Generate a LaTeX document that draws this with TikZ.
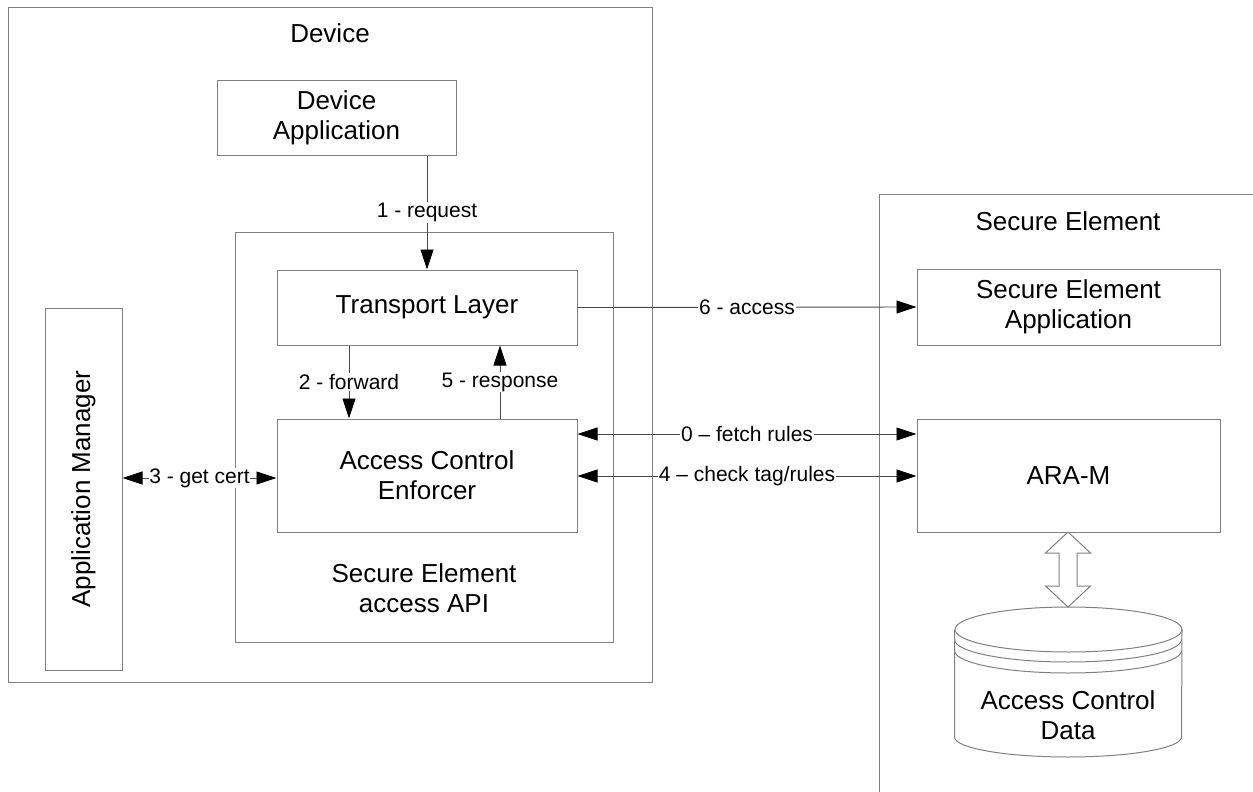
\documentclass[tikz,border=0pt]{standalone}
\usepackage{fontspec}
\setmainfont{Liberation Sans}
\usetikzlibrary{arrows.meta}
\definecolor{boxgray}{HTML}{808080}
\definecolor{linegray}{HTML}{4A4A4A}
\begin{document}
\begin{tikzpicture}[x=1pt,y=-1pt,
  box/.style={draw=boxgray, line width=1pt, inner sep=0pt, align=center, font=\fontsize{26}{30}\selectfont},
  big/.style={font=\fontsize{26}{30}\selectfont, align=center, inner sep=0pt},
  lbl/.style={font=\fontsize{21}{24}\selectfont, fill=white, inner sep=1pt, text=black},
  conn/.style={draw=linegray, line width=0.9pt, -{Triangle[length=20pt,width=13pt,color=black]}},
  conn2/.style={draw=linegray, line width=0.9pt, {Triangle[length=20pt,width=13pt,color=black]}-{Triangle[length=20pt,width=13pt,color=black]}},
  thin/.style={draw=boxgray, line width=1pt}
]
\useasboundingbox (0,0) rectangle (1253,792);

% Device container
\node[box, minimum width=644pt, minimum height=674pt] (device) at (330,345) {};
\node[big] (devicelbl) at (330,33) {Device};

\node[box, minimum width=239pt, minimum height=74pt] (devapp) at (336.5,118) {Device\\Application};

\node[box, minimum width=378pt, minimum height=410pt] (api) at (424,437) {};
\node[big] (apilbl) at (424,588) {Secure Element\\access API};

\node[box, minimum width=300pt, minimum height=75pt] (transport) at (427,307.5) {Transport Layer};
\node[box, minimum width=300pt, minimum height=113pt] (ace) at (427,475.5) {Access Control\\Enforcer};

\node[box, minimum width=77pt, minimum height=362pt] (appmgr) at (83.5,489) {};
\node[big, rotate=90] (appmgrlbl) at (83.5,489) {Application Manager};

% Secure Element container (clipped by the page)
\coordinate (seBL) at (879,792);
\coordinate (seTL) at (879,194);
\coordinate (seTR) at (1253,194);
\draw[thin] (seBL) -- (seTL) -- (seTR);
\node[big] (selbl) at (1068,221) {Secure Element};

\node[box, minimum width=303pt, minimum height=76pt] (seapp) at (1068.5,307) {Secure Element\\Application};
\node[box, minimum width=303pt, minimum height=113pt] (ara) at (1068.5,475.5) {ARA-M};

% Connectors
\draw[conn] (transport.north |- devapp.south) -- (transport.north)
  node[lbl, midway] {1 - request};

\coordinate (x2) at (349,0);
\coordinate (x5) at (500,0);
\draw[conn] (x2 |- transport.south) -- (x2 |- ace.north)
  node[lbl, midway] {2 - forward};
\draw[conn] (x5 |- ace.north) -- (x5 |- transport.south)
  node[lbl, midway] {5 - response};

\coordinate (y3) at (0,478);
\draw[conn2] (appmgr.east |- y3) -- (ace.west |- y3)
  node[lbl, midway, inner sep=0pt] {3 - get cert};

\draw[conn] (transport.east) -- (seapp.west)
  node[lbl, midway] {6 - access};

\coordinate (y0) at (0,434);
\coordinate (y4) at (0,476);
\draw[conn2] (ace.east |- y0) -- (ara.west |- y0)
  node[lbl, midway] {0 -- fetch rules};
\draw[conn2] (ace.east |- y4) -- (ara.west |- y4)
  node[lbl, midway] {4 -- check tag/rules};

% Hollow double arrow
\draw[thin, fill=white, line join=miter]
  (1068,532) -- (1090.5,553) -- (1077,553) -- (1077,586) -- (1090.5,586)
  -- (1068,607) -- (1045.5,586) -- (1059,586) -- (1059,553) -- (1045.5,553) -- cycle;

% Cylinder (Access Control Data)
\draw[thin] (1068.5,629.5) ellipse [x radius=113.5pt, y radius=22.5pt];
\draw[thin] (954.5,629.5) -- (954.5,737)
  arc[start angle=180, end angle=360, x radius=113.5pt, y radius=20pt]
  -- (1182,629.5);
\draw[thin] (954.5,639.5) arc[start angle=180, end angle=360, x radius=113.5pt, y radius=22.5pt];
\draw[thin] (954.5,650.5) arc[start angle=180, end angle=360, x radius=113.5pt, y radius=22.5pt];
\node[big] (acdata) at (1068,715) {Access Control\\Data};
\end{tikzpicture}
\end{document}
